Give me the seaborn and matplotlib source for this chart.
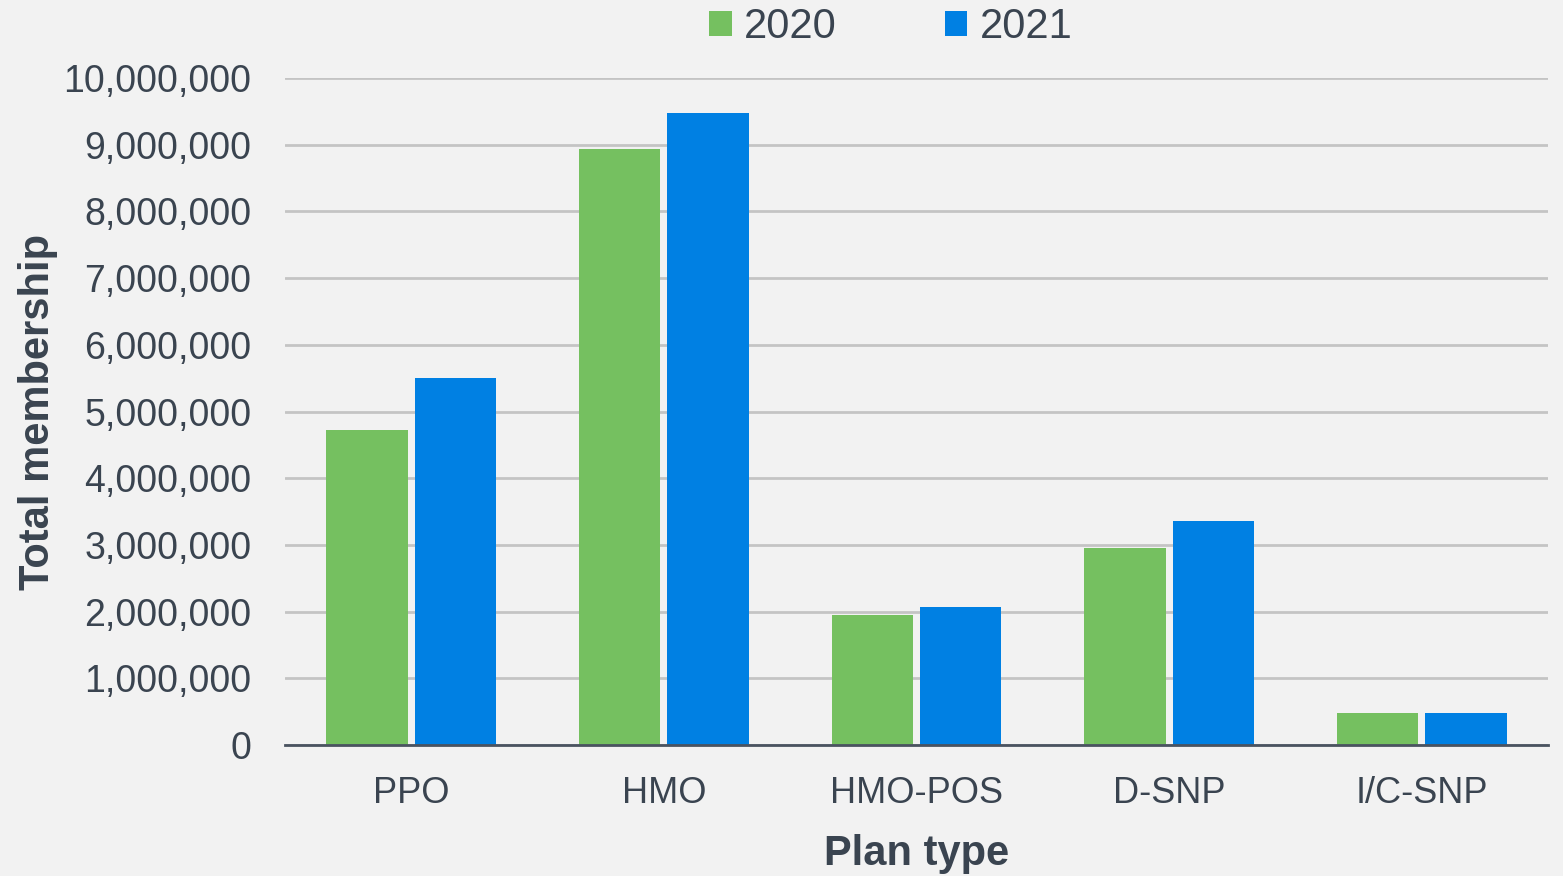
import matplotlib
matplotlib.use("Agg")
import matplotlib.pyplot as plt
import seaborn as sns
import pandas as pd
from matplotlib.ticker import FuncFormatter, MultipleLocator
from matplotlib.patches import Patch

plan_types = ["PPO", "HMO", "HMO-POS", "D-SNP", "I/C-SNP"]
years = ["2020", "2021"]
members_2020 = [4720000, 8940000, 1950000, 2950000, 480000]
members_2021 = [5500000, 9480000, 2070000, 3360000, 480000]

df = pd.DataFrame({
    "Plan type": plan_types * 2,
    "Year": [years[0]] * len(plan_types) + [years[1]] * len(plan_types),
    "Members": members_2020 + members_2021,
})

bg = "#F2F2F2"
text_c = "#3A4450"
colors = {"2020": "#75C060", "2021": "#0080E3"}

sns.set_theme(style="white")
plt.rcParams["font.family"] = ["Liberation Sans", "DejaVu Sans"]

fig = plt.figure(figsize=(15.63, 8.76), dpi=100, facecolor=bg)
ax = fig.add_axes([0.1823, 0.1495, 0.8081, 0.7615])
ax.set_facecolor(bg)

sns.barplot(data=df, x="Plan type", y="Members", hue="Year", hue_order=years,
            palette=colors, width=0.7, gap=0.08, ax=ax, legend=False,
            saturation=1, edgecolor="none")

ax.set_ylim(0, 10000000)
ax.set_xlim(-0.5, len(plan_types) - 0.5)
ax.yaxis.set_major_locator(MultipleLocator(1000000))
ax.yaxis.set_major_formatter(FuncFormatter(lambda v, p: f"{int(v):,}"))
ax.grid(axis="y", color="#C4C4C4", linewidth=2)
ax.set_axisbelow(True)
for s in ["top", "right", "left"]:
    ax.spines[s].set_visible(False)
ax.spines["bottom"].set_color("#4A5360")
ax.spines["bottom"].set_linewidth(2)
ax.spines["bottom"].set_zorder(5)

ax.tick_params(axis="y", length=0, pad=24, labelsize=27, labelcolor=text_c)
ax.tick_params(axis="x", length=0, pad=22, labelsize=26, labelcolor=text_c)

ax.set_ylabel("Total membership", fontsize=30, fontweight="bold", color=text_c, labelpad=4)
ax.set_xlabel("Plan type", fontsize=30, fontweight="bold", color=text_c, labelpad=17)

handles = [Patch(facecolor=colors[y], edgecolor="none") for y in years]
fig.legend(handles, years, loc="center", bbox_to_anchor=(891 / 1563, 1 - 27 / 876),
           ncol=2, frameon=False, fontsize=30, labelcolor=text_c,
           handlelength=0.53, handleheight=0.53, handletextpad=0.3, columnspacing=2.6)

fig.savefig("out.png", dpi=100, facecolor=bg)
